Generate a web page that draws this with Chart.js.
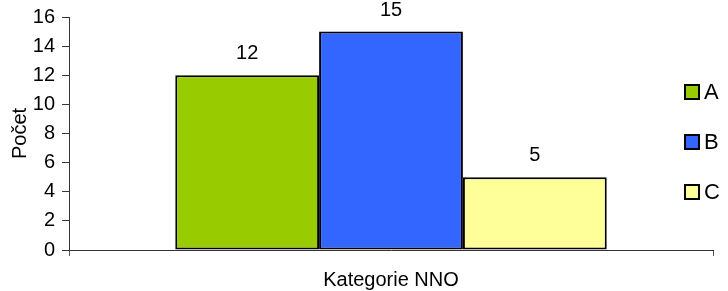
<!DOCTYPE html>
<html>
<head>
<meta charset="utf-8">
<script src="https://cdn.jsdelivr.net/npm/chart.js@4"></script>
<style>
html,body{margin:0;padding:0;background:#fff;}
#wrap{width:728px;height:291px;position:relative;}
</style>
</head>
<body>
<div id="wrap"><canvas id="c" width="728" height="291"></canvas></div>
<script>
const categories = ['Kategorie NNO'];
const seriesNames = ['A', 'B', 'C'];
const seriesA = [12];
const seriesB = [15];
const seriesC = [5];
const yTicks = [0, 2, 4, 6, 8, 10, 12, 14, 16];
const yTitle = 'Počet';
const colors = ['#99CC00', '#3366FF', '#FFFF99'];

const FONT = "'Liberation Sans', Arial, sans-serif";

const valueLabels = {
  id: 'valueLabels',
  afterDatasetsDraw(chart) {
    const ctx = chart.ctx;
    ctx.save();
    ctx.font = '20px ' + FONT;
    ctx.fillStyle = '#000';
    ctx.textAlign = 'center';
    ctx.textBaseline = 'alphabetic';
    chart.data.datasets.forEach((ds, i) => {
      chart.getDatasetMeta(i).data.forEach((bar, j) => {
        ctx.fillText(String(ds.data[j]), bar.x, bar.y - 16);
      });
    });
    ctx.restore();
  }
};

const sideLegend = {
  id: 'sideLegend',
  afterDraw(chart) {
    const ctx = chart.ctx;
    ctx.save();
    ctx.font = '22px ' + FONT;
    ctx.textBaseline = 'middle';
    ctx.textAlign = 'left';
    const ys = [92, 142, 192];
    chart.data.datasets.forEach((ds, i) => {
      const y = ys[i];
      ctx.fillStyle = ds.backgroundColor;
      ctx.fillRect(685, y - 7, 14, 14);
      ctx.strokeStyle = '#000';
      ctx.lineWidth = 2;
      ctx.strokeRect(685, y - 7, 14, 14);
      ctx.fillStyle = '#000';
      ctx.fillText(ds.label, 704, y + 1);
    });
    ctx.restore();
  }
};

new Chart(document.getElementById('c'), {
  type: 'bar',
  data: {
    labels: categories,
    datasets: [
      { label: seriesNames[0], data: seriesA, backgroundColor: colors[0] },
      { label: seriesNames[1], data: seriesB, backgroundColor: colors[1] },
      { label: seriesNames[2], data: seriesC, backgroundColor: colors[2] }
    ].map(d => Object.assign(d, { borderColor: '#000', borderWidth: 2, borderSkipped: false }))
  },
  options: {
    responsive: false,
    animation: false,
    devicePixelRatio: 1,
    layout: { padding: { top: 17, right: 15, left: 0, bottom: 0 } },
    plugins: { legend: { display: false }, tooltip: { enabled: false } },
    datasets: { bar: { categoryPercentage: 0.67, barPercentage: 1 } },
    scales: {
      x: {
        grid: { drawOnChartArea: false, tickLength: 6, color: '#555', offset: true },
        border: { color: '#333', width: 1 },
        ticks: { color: '#000', font: { size: 20, family: FONT }, padding: 12 },
        afterFit(s) { s.height = 41; s.paddingLeft = 0; s.paddingRight = 0; }
      },
      y: {
        min: 0, max: 16,
        afterBuildTicks(s) { s.ticks = yTicks.map(v => ({ value: v })); },
        grid: { drawOnChartArea: false, tickLength: 7, color: '#333' },
        border: { color: '#333', width: 1 },
        ticks: { color: '#000', font: { size: 20, family: FONT }, padding: 7 },
        title: { display: true, text: yTitle, color: '#000', font: { size: 20, family: FONT }, padding: { top: 8, bottom: 0 } },
        afterFit(s) { s.width = 69; s.paddingTop = 0; s.paddingBottom = 0; }
      }
    }
  },
  plugins: [valueLabels, sideLegend]
});
</script>
</body>
</html>
